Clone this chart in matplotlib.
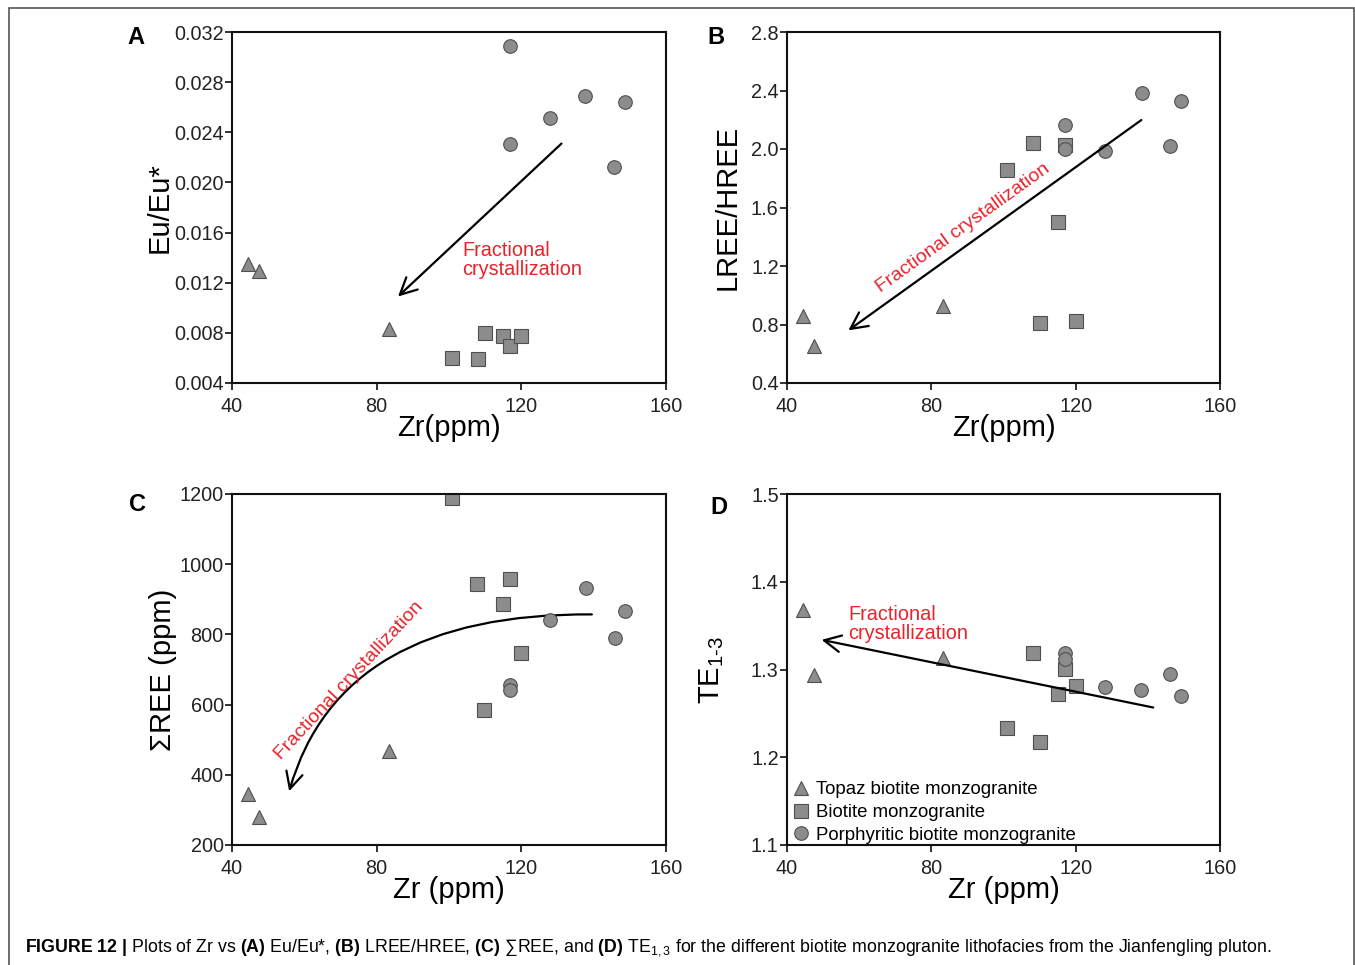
import numpy as np
import matplotlib
matplotlib.use("Agg")
import matplotlib.pyplot as plt
from matplotlib.path import Path
from matplotlib.patches import FancyArrowPatch, Rectangle
from matplotlib.lines import Line2D

plt.rcParams['font.family'] = ['Liberation Sans', 'DejaVu Sans']
plt.rcParams['mathtext.fontset'] = 'custom'
plt.rcParams['mathtext.rm'] = 'Liberation Sans'
plt.rcParams['mathtext.it'] = 'Liberation Sans:italic'
plt.rcParams['mathtext.bf'] = 'Liberation Sans:bold'

# ---- data ----
# Topaz biotite monzogranite (triangles)
tri_zr = [44.3, 47.4, 83.3]
tri_eu = [0.0135, 0.0129, 0.0083]
tri_lh = [0.86, 0.655, 0.925]
tri_ree = [344, 279, 467]
tri_te = [1.368, 1.294, 1.313]

# Biotite monzogranite (squares)
sq_zr = [100.9, 107.9, 109.9, 114.9, 116.9, 119.9]
sq_eu = [0.0060, 0.00595, 0.00795, 0.00773, 0.00693, 0.00773]
sq_zr_b = [108.1, 101.0, 117.0, 115.0, 110.0, 120.1]
sq_lh = [2.038, 1.853, 2.03, 1.502, 0.813, 0.827]
sq_zr_c = [100.9, 107.8, 117.0, 114.9, 120.0, 109.8]
sq_ree = [1190, 945, 957, 886, 748, 586]
sq_zr_d = [108.1, 117.0, 120.0, 115.0, 101.0, 110.1]
sq_te = [1.319, 1.301, 1.281, 1.272, 1.233, 1.217]

# Porphyritic biotite monzogranite (circles)
ci_zr = [116.8, 116.8, 127.8, 137.6, 148.7, 145.7]
ci_eu = [0.0309, 0.0231, 0.0251, 0.0269, 0.0264, 0.0212]
ci_zr_b = [117.0, 117.0, 128.1, 138.3, 146.2, 149.3]
ci_lh = [2.166, 1.997, 1.983, 2.380, 2.018, 2.326]
ci_zr_c = [117.0, 117.0, 127.9, 137.8, 145.9, 148.8]
ci_ree = [656, 643, 841, 933, 789, 866]
ci_zr_d = [117.0, 117.0, 128.0, 138.2, 146.1, 149.3]
ci_te = [1.319, 1.3125, 1.2795, 1.277, 1.295, 1.2696]

legend_labels = ["Topaz biotite monzogranite", "Biotite monzogranite",
                 "Porphyritic biotite monzogranite"]

FILL = '#8c8c8c'
EDGE = '#4f4f4f'
RED = '#e8232b'
MS = 9.8

fig = plt.figure(figsize=(13.55, 9.65), dpi=100)

W, H = 1355.0, 965.0
def add_ax(l, t, r, b):
    return fig.add_axes([l / W, 1 - b / H, (r - l) / W, (b - t) / H])

axA = add_ax(232, 32, 666, 383)
axB = add_ax(787, 32, 1220, 383)
axC = add_ax(232, 494, 666, 845)
axD = add_ax(787, 494, 1220, 845)

def style(ax, ylim, yticks, yfmt, ylabel, xlabel, ylpad):
    ax.set_xlim(40, 160)
    ax.set_xticks([40, 80, 120, 160])
    ax.set_ylim(*ylim)
    ax.set_yticks(yticks)
    ax.set_yticklabels([yfmt.format(v) for v in yticks])
    ax.tick_params(direction='out', length=5, width=1.3, labelsize=14.3,
                   colors='#222222')
    ax.tick_params(axis='x', pad=5)
    ax.tick_params(axis='y', pad=1)
    for s in ax.spines.values():
        s.set_linewidth(1.5)
        s.set_color('#111111')
    ax.set_xlabel(xlabel, fontsize=21, labelpad=-1)
    ax.set_ylabel(ylabel, fontsize=21, labelpad=ylpad)

def scatter3(ax, xt, yt, xs, ys, xc, yc):
    ax.plot(xt, yt, '^', ms=MS, mfc=FILL, mec=EDGE, mew=0.8, ls='none')
    ax.plot(xs, ys, 's', ms=MS, mfc=FILL, mec=EDGE, mew=0.8, ls='none')
    ax.plot(xc, yc, 'o', ms=MS, mfc=FILL, mec=EDGE, mew=0.8, ls='none')

arrow_kw = dict(arrowstyle='->', lw=1.6, color='black', mutation_scale=30,
                shrinkA=0, shrinkB=0)

# ---- A ----
scatter3(axA, tri_zr, tri_eu, sq_zr, sq_eu, ci_zr, ci_eu)
style(axA, (0.004, 0.032), np.arange(0.004, 0.0321, 0.004), '{:.3f}',
      'Eu/Eu*', 'Zr(ppm)', 0)
axA.annotate('', xy=(85.9, 0.0109), xytext=(131.1, 0.0231), arrowprops=arrow_kw)
axA.text(103.6, 0.0153, 'Fractional\ncrystallization', color=RED, fontsize=14.3,
         va='top', ha='left', linespacing=1.0)

# ---- B ----
scatter3(axB, tri_zr, tri_lh, sq_zr_b, sq_lh, ci_zr_b, ci_lh)
style(axB, (0.4, 2.8), np.arange(0.4, 2.81, 0.4), '{:.1f}',
      'LREE/HREE', 'Zr(ppm)', 7)
axB.annotate('', xy=(57.0, 0.76), xytext=(138.2, 2.198), arrowprops=arrow_kw)
angB = np.degrees(np.arctan2(2.198 - 0.76, 138.2 - 57.0))
axB.text(88.8, 1.46, 'Fractional crystallization', color=RED, fontsize=14,
         ha='center', va='center', rotation=angB, rotation_mode='anchor',
         transform_rotates_text=True)

# ---- C ----
scatter3(axC, tri_zr, tri_ree, sq_zr_c, sq_ree, ci_zr_c, ci_ree)
style(axC, (200, 1200), np.arange(200, 1201, 200), '{:.0f}',
      'ΣREE (ppm)', 'Zr (ppm)', 2)
curve = Path([(139.5, 857), (70, 862), (55.8, 353)],
             [Path.MOVETO, Path.CURVE3, Path.CURVE3])
axC.add_patch(FancyArrowPatch(path=curve, **arrow_kw))
angC = np.degrees(np.arctan2(881 - 434, 94.0 - 53.6))
axC.text(72.5, 668, 'Fractional crystallization', color=RED, fontsize=14,
         ha='center', va='center', rotation=angC, rotation_mode='anchor',
         transform_rotates_text=True)

# ---- D ----
scatter3(axD, tri_zr, tri_te, sq_zr_d, sq_te, ci_zr_d, ci_te)
style(axD, (1.1, 1.5), np.arange(1.1, 1.51, 0.1), '{:.1f}',
      'TE$_{\\mathregular{1\\text{-}3}}$', 'Zr (ppm)', 18)
axD.annotate('', xy=(49.6, 1.3338), xytext=(141.5, 1.2567), arrowprops=arrow_kw)
axD.text(57.0, 1.373, 'Fractional\ncrystallization', color=RED, fontsize=14.3,
         va='top', ha='left', linespacing=1.0)
handles = [Line2D([], [], marker=m, ms=MS, mfc=FILL, mec=EDGE, mew=0.8, ls='none')
           for m in ['^', 's', 'o']]
axD.legend(handles, legend_labels, loc='lower left', bbox_to_anchor=(-0.002, -0.012),
           frameon=False, fontsize=13.4, handletextpad=0.3, labelspacing=0.3,
           borderpad=0.1, handlelength=1.0, borderaxespad=0.2)

# panel letters
for lab, x, y in [('A', 136, 37), ('B', 716, 37), ('C', 137, 504), ('D', 719, 508)]:
    fig.text(x / W, 1 - y / H, lab, fontsize=17, fontweight='bold',
             ha='center', va='center')

# outer frame
fig.patches.append(Rectangle((9 / W, -0.05), (1354 - 9) / W, 1.05 - 8 / H,
                             transform=fig.transFigure, fill=False,
                             edgecolor='#555555', lw=1.2))

# caption
fig.text(25 / W, 1 - 948 / H,
         r"$\bf{FIGURE\ 12\ |}$ Plots of Zr vs $\bf{(A)}$ Eu/Eu*, $\bf{(B)}$ LREE/HREE, "
         r"$\bf{(C)}$ ∑REE, and $\bf{(D)}$ TE$_{1,3}$ for the different biotite "
         r"monzogranite lithofacies from the Jianfengling pluton.",
         fontsize=12.8, ha='left', va='center')

fig.savefig('out.png', dpi=100)
